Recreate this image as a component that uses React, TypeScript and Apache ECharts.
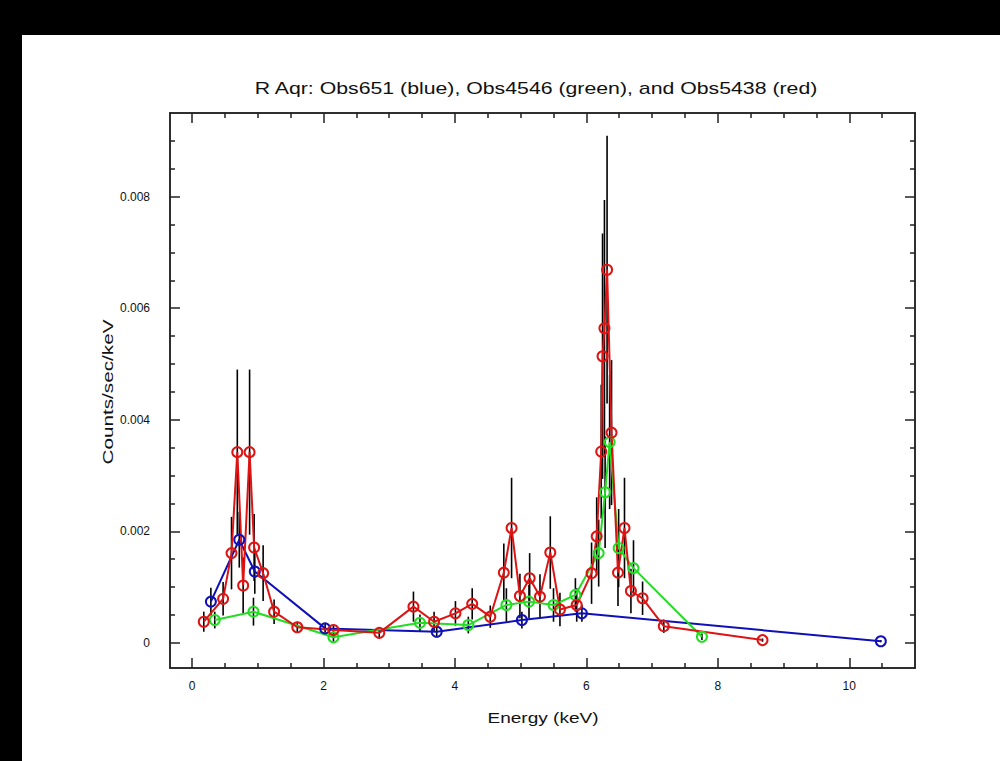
import React, { useEffect, useRef } from "react";
import * as echarts from "echarts";

// ---- data ----
const blueE = [0.287, 0.719, 0.955, 2.025, 3.723, 5.019, 5.932, 10.48];
const blueV = [0.00074, 0.00185, 0.00128, 0.00026, 0.00020, 0.00041, 0.00053, 0.00003];
const blueErr = [0.00025, 0.0005, 0.0004, 0.00008, 0.0001, 0.00015, 0.00015, 0.00002];

const greenE = [0.346, 0.935, 2.152, 3.468, 4.204, 4.783, 5.127, 5.50, 5.833, 6.187, 6.285, 6.354, 6.491, 6.717, 7.758];
const greenV = [0.00041, 0.00056, 0.00010, 0.00036, 0.00032, 0.00068, 0.00074, 0.00068, 0.00086, 0.00161, 0.0027, 0.0036, 0.0017, 0.00134, 0.00011];
const greenErr = [0.00015, 0.00025, 0.00008, 0.00015, 0.00015, 0.0003, 0.0003, 0.0003, 0.0003, 0.0006, 0.001, 0.0012, 0.0007, 0.0005, 0.00006];

const redE = [0.179, 0.473, 0.601, 0.689, 0.778, 0.876, 0.945, 1.082, 1.249, 1.602, 2.152, 2.849, 3.369, 3.683, 4.008, 4.263, 4.538, 4.744, 4.862, 4.989, 5.137, 5.294, 5.451, 5.598, 5.853, 6.079, 6.157, 6.226, 6.246, 6.275, 6.315, 6.383, 6.481, 6.58, 6.678, 6.855, 7.178, 8.68];
const redV = [0.00038, 0.00079, 0.00161, 0.00342, 0.00103, 0.00342, 0.00171, 0.00125, 0.00056, 0.00028, 0.00023, 0.00018, 0.00065, 0.00038, 0.00053, 0.0007, 0.00047, 0.00126, 0.00206, 0.00084, 0.00116, 0.00083, 0.00162, 0.0006, 0.00068, 0.00125, 0.00191, 0.00343, 0.00514, 0.00564, 0.00669, 0.00377, 0.00126, 0.00206, 0.00093, 0.0008, 0.0003, 0.00005];
const redErr = [0.00018, 0.0003, 0.00065, 0.00148, 0.0005, 0.00148, 0.0006, 0.0005, 0.00022, 0.0001, 0.0001, 0.00008, 0.00027, 0.00018, 0.00022, 0.00028, 0.0002, 0.00052, 0.0009, 0.0004, 0.00045, 0.0004, 0.00065, 0.0003, 0.0003, 0.00055, 0.0007, 0.0012, 0.0022, 0.0023, 0.0024, 0.0013, 0.0006, 0.0009, 0.0004, 0.0003, 0.00012, 0.00003];

const xMajor = [0, 2, 4, 6, 8, 10];
const xMinor = [0.5, 1, 1.5, 2.5, 3, 3.5, 4.5, 5, 5.5, 6.5, 7, 7.5, 8.5, 9, 9.5, 10.5];
const yMajor = [0, 0.002, 0.004, 0.006, 0.008];
const yMinor = [0.0005, 0.001, 0.0015, 0.0025, 0.003, 0.0035, 0.0045, 0.005, 0.0055, 0.0065, 0.007, 0.0075, 0.0085, 0.009];

const TITLE = "R Aqr: Obs651 (blue), Obs4546 (green), and Obs5438 (red)";
const X_NAME = "Energy (keV)";
const Y_NAME = "Counts/sec/keV";

const XMIN = -0.335;
const XMAX = 11.0;
const YMIN = -0.00045;
const YMAX = 0.0095;

const BLUE = "#1010b8";
const GREEN = "#22dd22";
const RED = "#dd1414";
const FONT = "Liberation Sans";
const FRAME = "#222";

export default function App() {
  const ref = useRef<HTMLDivElement>(null);
  useEffect(() => {
    if (!ref.current) return;
    const chart = echarts.init(ref.current, undefined, { renderer: "svg" });
    const gridRect = { left: 170, top: 113, width: 745, height: 555 };

    const pairs = (xs: number[], ys: number[]) => xs.map((x, i) => [x, ys[i]]);
    const errs = (xs: number[], ys: number[], es: number[]) =>
      xs.map((x, i) => [x, ys[i] - es[i], ys[i] + es[i]]);

    const lineSeries = (data: number[][], color: string) => ({
      type: "line",
      xAxisIndex: 0,
      yAxisIndex: 0,
      data,
      symbol: "circle",
      symbolSize: 10,
      showSymbol: true,
      lineStyle: { color, width: 2 },
      itemStyle: { color: "rgba(0,0,0,0)", borderColor: color, borderWidth: 2 },
      clip: true,
      silent: true,
    });
    const errSeries = (data: number[][]) => ({
      type: "custom",
      xAxisIndex: 0,
      yAxisIndex: 0,
      data,
      encode: { x: 0, y: [1, 2] },
      silent: true,
      renderItem: (params: any, api: any) => {
        const x = api.value(0);
        const p1 = api.coord([x, api.value(1)]);
        const p2 = api.coord([x, api.value(2)]);
        return {
          type: "line",
          shape: { x1: p1[0], y1: p1[1], x2: p2[0], y2: p2[1] },
          style: { stroke: "#000", lineWidth: 1.6 },
        };
      },
    });

    const baseX = (extra: any) => ({
      type: "value",
      min: XMIN,
      max: XMAX,
      splitLine: { show: false },
      axisLine: { show: true, onZero: false, lineStyle: { color: FRAME, width: 1.5 } },
      ...extra,
    });
    const baseY = (extra: any) => ({
      type: "value",
      min: YMIN,
      max: YMAX,
      splitLine: { show: false },
      axisLine: { show: true, onZero: false, lineStyle: { color: FRAME, width: 1.5 } },
      ...extra,
    });
    const tick = (vals: number[], len: number) => ({
      show: true,
      inside: true,
      length: len,
      customValues: vals,
      lineStyle: { color: FRAME, width: 1.5 },
    });
    const txt = (text: string, x: number, y: number, size: number, sx: number, rot = 0) => ({
      type: "text",
      x,
      y,
      rotation: rot,
      scaleX: sx,
      style: {
        text,
        fontFamily: FONT,
        fontSize: size,
        fill: "#111",
        textAlign: "center",
        textVerticalAlign: "middle",
      },
    });

    chart.setOption({
      animation: false,
      backgroundColor: "transparent",
      textStyle: { fontFamily: FONT },
      grid: [
        { ...gridRect, containLabel: false },
        { ...gridRect, containLabel: false },
      ],
      graphic: [
        txt(TITLE, 536, 88, 16, 1.33),
        txt(X_NAME, 543, 718, 15, 1.27),
        txt(Y_NAME, 108, 392, 15, 1.38, Math.PI / 2),
      ],
      xAxis: [
        baseX({
          gridIndex: 0,
          position: "bottom",
          axisTick: tick(xMajor, 10),
          axisLabel: {
            show: true,
            customValues: xMajor,
            margin: 12,
            fontSize: 12,
            color: "#111",
            fontFamily: FONT,
            formatter: (v: number) => String(v),
          },
        }),
        baseX({
          gridIndex: 0,
          position: "top",
          axisTick: tick(xMajor, 10),
          axisLabel: { show: false },
        }),
        baseX({
          gridIndex: 1,
          position: "bottom",
          axisTick: tick(xMinor, 5),
          axisLabel: { show: false },
        }),
        baseX({
          gridIndex: 1,
          position: "top",
          axisTick: tick(xMinor, 5),
          axisLabel: { show: false },
        }),
      ],
      yAxis: [
        baseY({
          gridIndex: 0,
          position: "left",
          axisTick: tick(yMajor, 10),
          axisLabel: {
            show: true,
            customValues: yMajor,
            margin: 20,
            fontSize: 12,
            color: "#111",
            fontFamily: FONT,
            formatter: (v: number) => (v === 0 ? "0" : v.toFixed(3)),
          },
        }),
        baseY({
          gridIndex: 0,
          position: "right",
          axisTick: tick(yMajor, 10),
          axisLabel: { show: false },
        }),
        baseY({
          gridIndex: 1,
          position: "left",
          axisTick: tick(yMinor, 5),
          axisLabel: { show: false },
        }),
        baseY({
          gridIndex: 1,
          position: "right",
          axisTick: tick(yMinor, 5),
          axisLabel: { show: false },
        }),
      ],
      series: [
        lineSeries(pairs(blueE, blueV), BLUE),
        errSeries(errs(blueE, blueV, blueErr)),
        lineSeries(pairs(greenE, greenV), GREEN),
        errSeries(errs(greenE, greenV, greenErr)),
        lineSeries(pairs(redE, redV), RED),
        errSeries(errs(redE, redV, redErr)),
        { type: "scatter", xAxisIndex: 2, yAxisIndex: 2, data: [], silent: true },
      ],
    });
    return () => chart.dispose();
  }, []);

  return (
    <div style={{ position: "fixed", left: 0, top: 0, width: 1000, height: 761, background: "#000", overflow: "hidden" }}>
      <div style={{ position: "absolute", left: 22, top: 35, width: 978, height: 726, background: "#fff" }} />
      <div ref={ref} style={{ position: "absolute", left: 0, top: 0, width: 1000, height: 761 }} />
    </div>
  );
}
